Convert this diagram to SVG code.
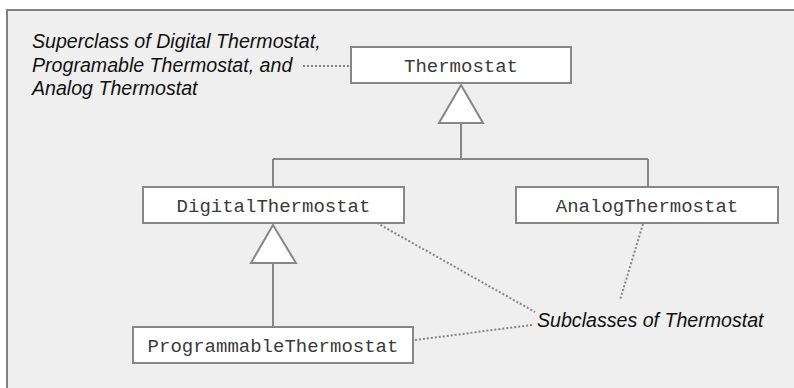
<svg xmlns="http://www.w3.org/2000/svg" width="794" height="388" viewBox="0 0 794 388">
<style>
.box{fill:#ffffff;stroke:#878787;stroke-width:2}
.cls{font-family:"Liberation Mono","Courier New",monospace;font-size:19px;fill:#3a3a3a;text-anchor:middle}
.note{font-family:"Liberation Sans",Arial,sans-serif;font-size:19.6px;font-style:italic;fill:#111}
.line{stroke:#878787;stroke-width:2;fill:none}
.tri{fill:#ffffff;stroke:#878787;stroke-width:2}
.dot{stroke:#858585;stroke-width:2;fill:none;stroke-dasharray:2 2}
</style>
<rect x="0" y="0" width="794" height="388" fill="#ffffff"/>
<rect x="7" y="10" width="787" height="378" fill="#efefef"/>
<path d="M7 388 V10 H794" stroke="#808080" stroke-width="2" fill="none"/>
<g id="connectors">
<path class="line" d="M461 123 V159 M273 159 H648 M273 159 V187 M648 159 V187"/>
<polygon class="tri" points="461,85 483,123 439,123"/>
<path class="line" d="M273 263 V327"/>
<polygon class="tri" points="273,225 296,263 251,263"/>
<path class="dot" d="M303 66 H350"/>
<path class="dot" d="M377 223 L535 312"/>
<path class="dot" d="M643 224 L620 300"/>
<path class="dot" d="M415 340 L532 325"/>
</g>
<g id="note-superclass">
<text class="note" x="32" y="48">Superclass of Digital Thermostat,</text>
<text class="note" x="32" y="71.5">Programable Thermostat, and</text>
<text class="note" x="32" y="95">Analog Thermostat</text>
</g>
<g id="note-subclasses">
<text class="note" x="537" y="327">Subclasses of Thermostat</text>
</g>
<g id="thermostat">
<rect class="box" x="351" y="47" width="220" height="36"/>
<text class="cls" x="461" y="72">Thermostat</text>
</g>
<g id="digital-thermostat">
<rect class="box" x="143" y="187" width="261" height="36"/>
<text class="cls" x="273.5" y="212">DigitalThermostat</text>
</g>
<g id="analog-thermostat">
<rect class="box" x="516" y="187" width="262" height="36"/>
<text class="cls" x="647" y="212">AnalogThermostat</text>
</g>
<g id="programmable-thermostat">
<rect class="box" x="133" y="327" width="280" height="36"/>
<text class="cls" x="273" y="352">ProgrammableThermostat</text>
</g>
</svg>
